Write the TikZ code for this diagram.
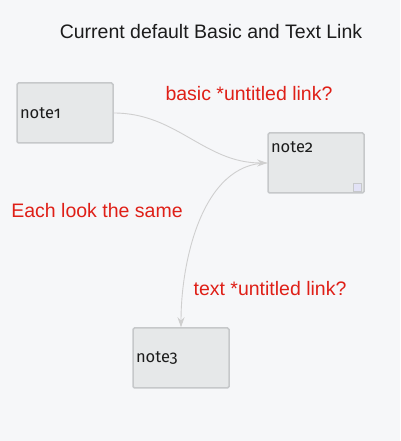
\documentclass[tikz,border=0pt]{standalone}
\usepackage{fontspec}
\setmainfont{Liberation Sans}
\newfontfamily\notefont[Numbers=OldStyle]{Fira Sans}
\usetikzlibrary{arrows.meta,positioning}
\definecolor{NoteBack}{HTML}{F6F7F9}
\definecolor{NoteFill}{HTML}{E6E8E9}
\definecolor{NoteEdge}{HTML}{C6C8CA}
\definecolor{LinkGray}{HTML}{CFCFCF}
\definecolor{NoteRed}{HTML}{DF1F17}
\definecolor{NoteDark}{HTML}{1C1C1C}
\definecolor{GripFill}{HTML}{E2E2F6}
\tikzset{
  figtitle/.style={font=\fontsize{19.5}{22}\selectfont\color{NoteDark}},
  notebox/.style={draw=NoteEdge, fill=NoteFill, rounded corners=1.5pt,
                  line width=1.5pt, minimum width=96pt, minimum height=60pt,
                  text width=90pt, inner sep=3pt, align=left,
                  font=\notefont\fontsize{16.5}{18}\selectfont\color{NoteDark}},
  link/.style={-{Stealth[length=10pt,width=7pt,fill=LinkGray]},
               line width=0.9pt, LinkGray},
  remark/.style={font=\fontsize{19.5}{22}\selectfont\color{NoteRed}},
}

\begin{document}
\begin{tikzpicture}[x=1pt, y=1pt]

  \useasboundingbox[fill=NoteBack] (0,0) rectangle (400,441);

  \node[figtitle] (title) at (211,409) {Current default Basic and Text Link};

  \node[notebox] (note1) at (65,328) {note1};
  \node[notebox, text height=14pt, text depth=34pt] (note2) at (316,278) {note2};
  \node[notebox] (note3) at (181,83) {note3};

  % resize grip of note2
  \draw[NoteEdge, fill=GripFill, line width=0.8pt]
    ([shift={(-11pt,2pt)}]note2.south east) rectangle +(8pt,8pt);

  \draw[link] (note1.east) to[out=0, in=180] (note2.west);
  \draw[link] (note2.west) to[out=180, in=90, looseness=0.9] (note3.north);

  \node[remark] (basic) at (249,347) {basic *untitled link?};
  \node[remark] (same) at (97,230) {Each look the same};
  \node[remark] (text) at (270,152) {text *untitled link?};

\end{tikzpicture}
\end{document}
